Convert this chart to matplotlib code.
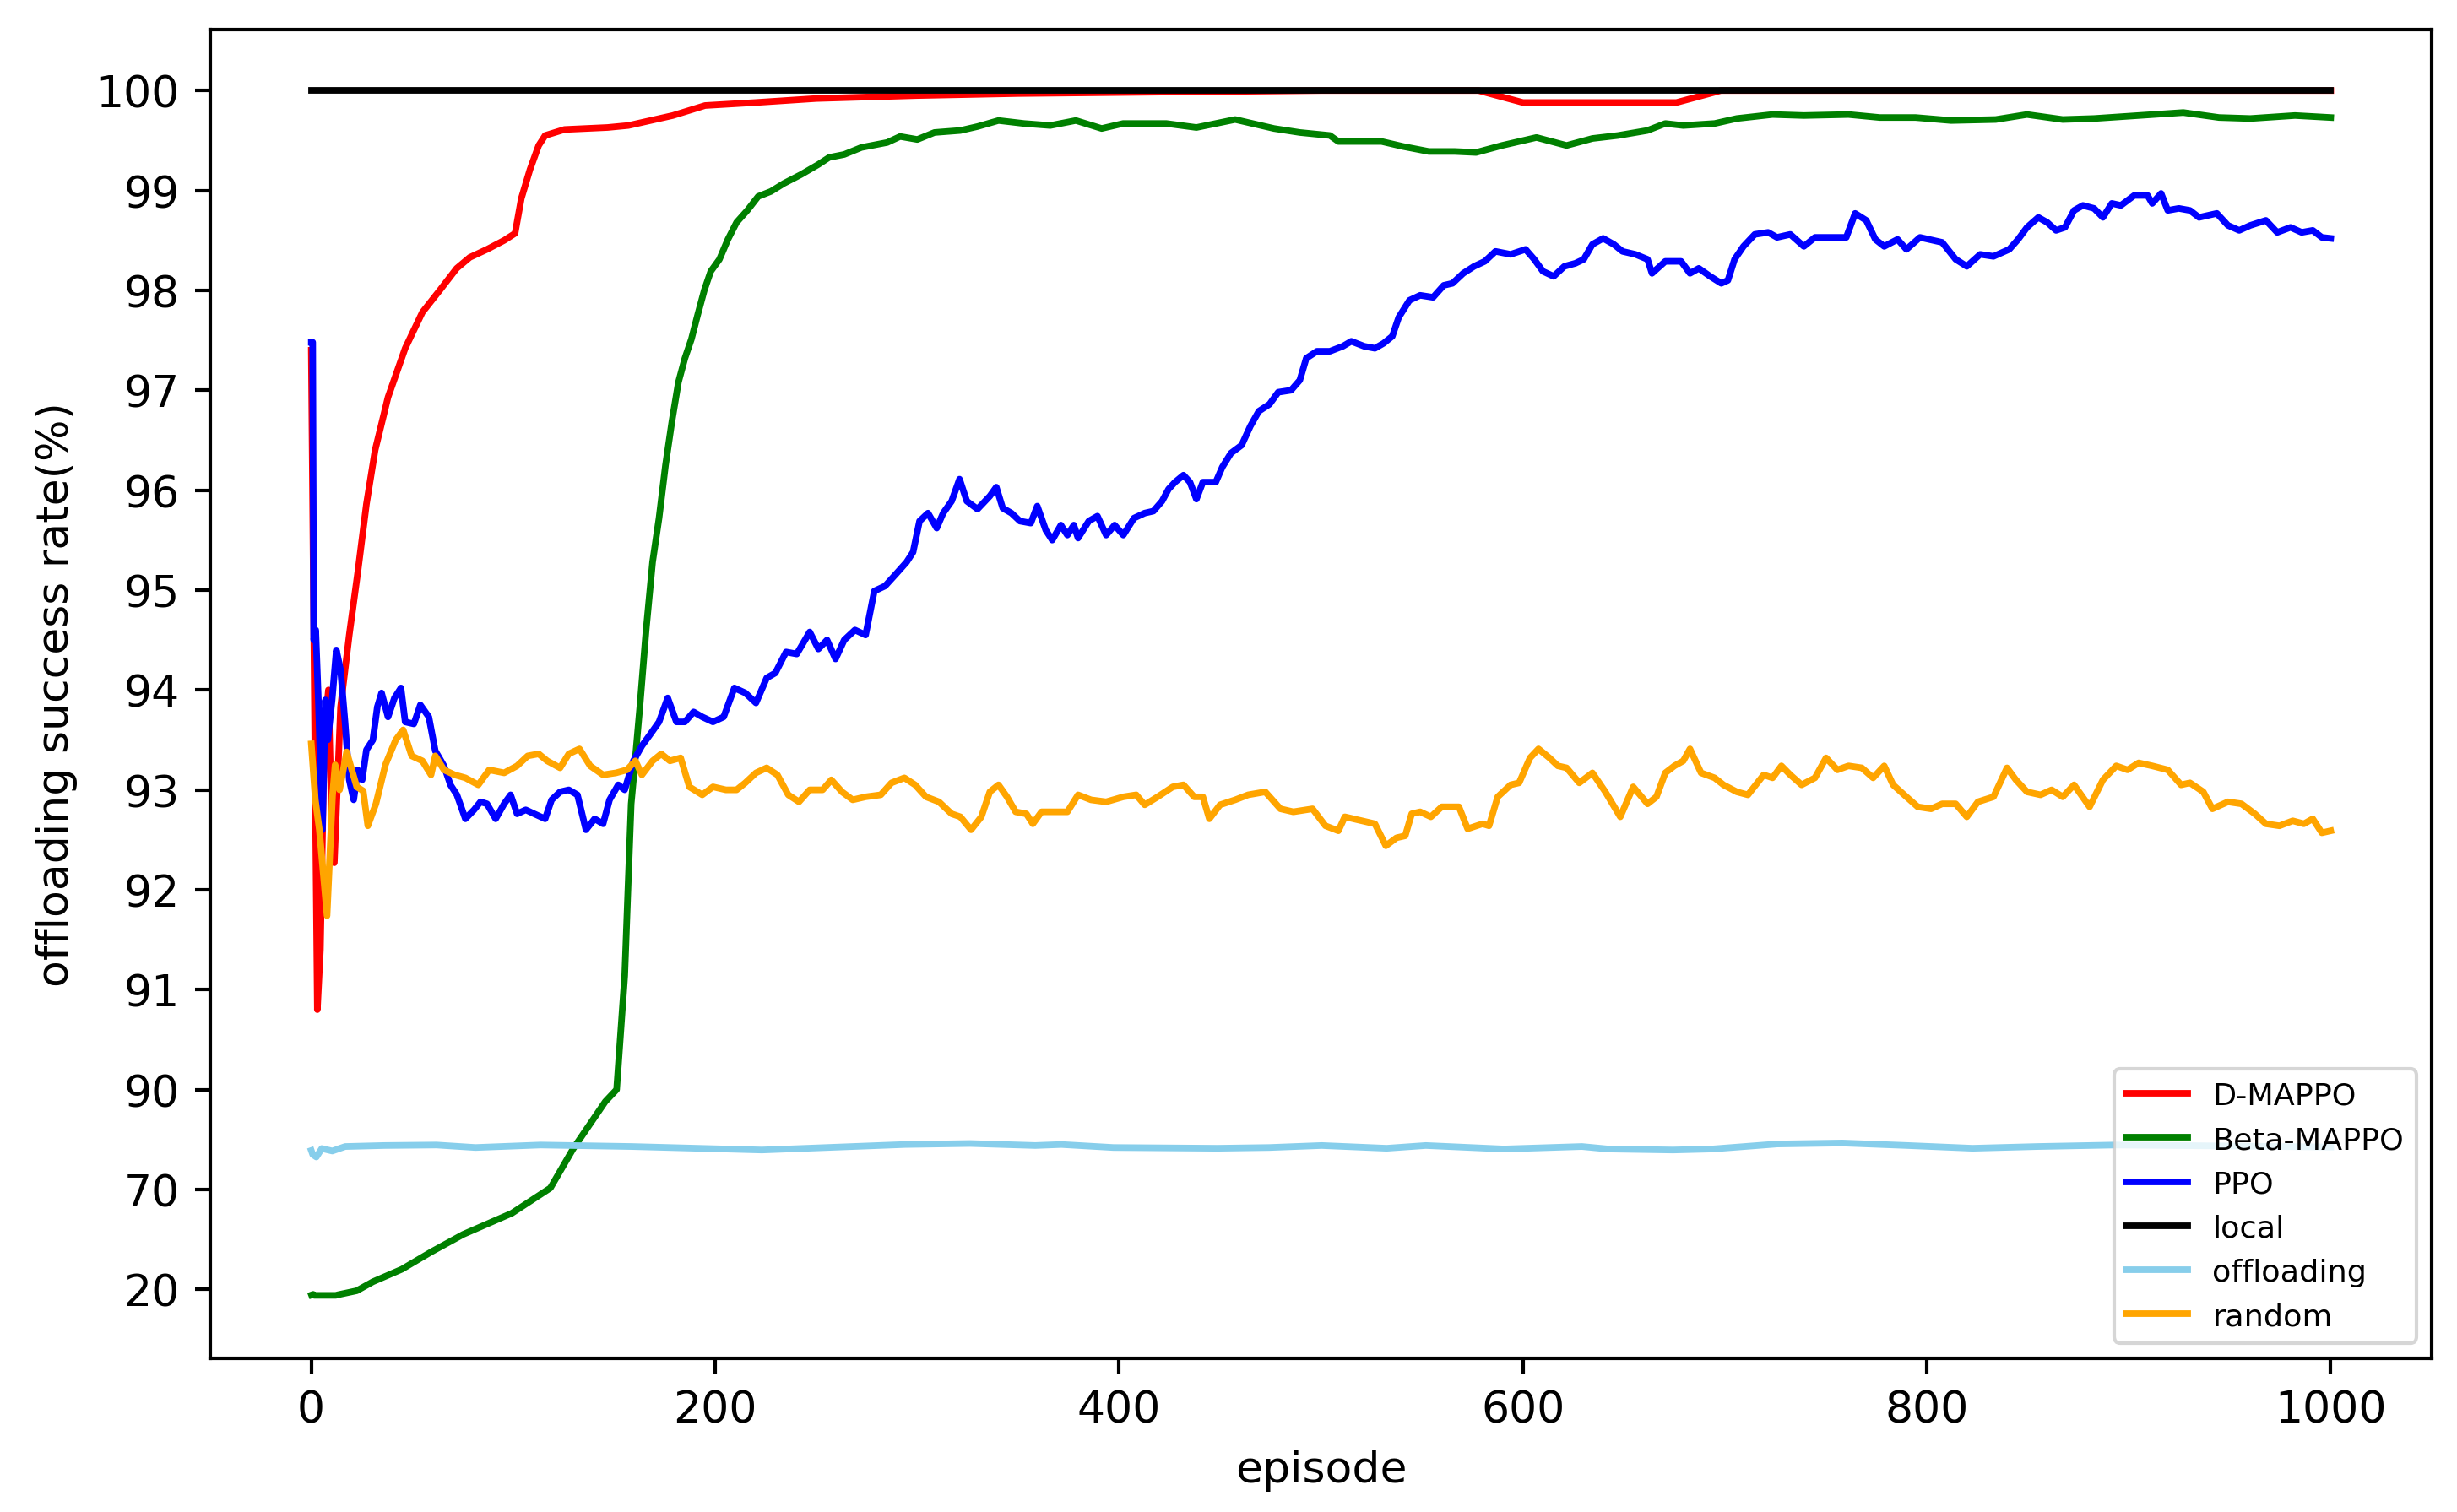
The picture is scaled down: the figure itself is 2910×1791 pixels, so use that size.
import numpy as np
import matplotlib
matplotlib.use("Agg")
import matplotlib.pyplot as plt

# ---------------- data ----------------
dmappo_ep = [0, 1.5, 3, 4.5, 6.5, 8.5, 10.5, 11.4, 14.5, 18.8, 23.1, 27.3, 31.6, 38, 46.5, 55,
             63.6, 72, 78.5, 87, 95.5, 100.9, 104, 108.3, 112.6, 115.8, 125.4, 146.7, 157,
             179, 195, 220, 250, 300, 350, 400, 450, 500, 578, 600, 676, 698, 750, 1000]
dmappo_val = [97.4, 94.0, 90.8, 91.4, 93.6, 94.0, 92.3, 92.27, 93.83, 94.55, 95.19, 95.86, 96.4,
              96.93, 97.42, 97.78, 98.0, 98.22, 98.33, 98.41, 98.5, 98.57, 98.92, 99.21, 99.45,
              99.55, 99.61, 99.63, 99.65, 99.75, 99.85, 99.88, 99.92, 99.95, 99.97, 99.98, 99.99,
              100.0, 100.0, 99.88, 99.88, 100.0, 100.0, 100.0]

beta_ep = [0.1, 0.9, 1.5, 12.1, 13.2, 22.5, 30.5, 44.9, 59.3, 75.2, 99.3, 118.4, 129.6, 145.6,
           151.2, 155.2, 158.4, 159.5, 162.7, 165.8, 169, 172.2, 175.4, 178.6, 181.8, 185, 188.2,
           191.4, 194.6, 197.8, 202.1, 206.3, 210.6, 215.9, 221.3, 227.6, 234, 242.6, 251.1,
           256.4, 263.9, 272.4, 285.2, 291.6, 300.1, 308.6, 321.4, 330, 340.3, 353, 365.9,
           378.6, 391.4, 402, 423.4, 438.3, 457.5, 476.7, 489.5, 504.4, 508.6, 530, 540.6,
           553.4, 566.2, 576.8, 589.6, 606.7, 621.6, 634.4, 647.1, 661.6, 670.5, 679.4, 694.9,
           705.9, 723.6, 739.1, 761.2, 776.7, 794.4, 812, 834.1, 849.6, 867.3, 882.8, 904.9,
           927, 944.7, 960.2, 982.3, 1000]
beta_val = [17.2, 17.5, 17.0, 17.0, 17.3, 19.3, 23.8, 30.1, 38.7, 47.5, 58.1, 70.3, 78.1, 87.6,
            90.0, 91.14, 92.86, 93.1, 93.83, 94.6, 95.28, 95.72, 96.25, 96.69, 97.08, 97.32,
            97.51, 97.76, 98.0, 98.19, 98.31, 98.51, 98.68, 98.8, 98.94, 98.99, 99.07, 99.16,
            99.26, 99.33, 99.36, 99.43, 99.48, 99.54, 99.51, 99.58, 99.6, 99.64, 99.7, 99.67,
            99.65, 99.7, 99.62, 99.67, 99.67, 99.63, 99.71, 99.62, 99.58, 99.55, 99.49, 99.49,
            99.44, 99.39, 99.39, 99.38, 99.45, 99.53, 99.45, 99.52, 99.55, 99.6, 99.67, 99.65,
            99.67, 99.72, 99.76, 99.75, 99.76, 99.73, 99.73, 99.7, 99.71, 99.76, 99.71, 99.72,
            99.75, 99.78, 99.73, 99.72, 99.75, 99.73]

ppo_ep = [0, 0.7, 1.2, 2.2, 3.5, 5.5, 7, 8.2, 10.3, 12.4, 14.5, 16.7, 18.8, 21, 23, 25.2, 27.3,
          30.5, 32.7, 34.8, 38, 41.2, 44.4, 46.5, 50.8, 54, 58.2, 61.4, 65.7, 68.9, 72.1, 76.3,
          80.6, 83.8, 87, 91.3, 95.5, 98.7, 101.9, 106.2, 110.4, 115.8, 119, 123.2, 127.5,
          131.8, 136, 140.3, 144.5, 147.7, 152, 155.2, 159.5, 163.7, 168, 172.2, 176.5, 180.8,
          185, 189.3, 193.6, 198.9, 204.2, 209.5, 214.9, 220.2, 225.5, 229.8, 235.1, 240.4,
          246.8, 251.1, 255.4, 259.6, 263.9, 269.2, 274.5, 278.8, 284.1, 289.5, 294.8, 298,
          301.2, 305.4, 309.7, 312.9, 317.1, 321, 324.6, 329.9, 336, 339.2, 342.4, 346.7,
          350.9, 356.3, 359.5, 363.7, 366.9, 371.2, 374.4, 377.6, 379.7, 385, 389.3, 393.6,
          397.8, 402.1, 407.4, 412.7, 417, 421.3, 424.5, 427.7, 431.9, 435.1, 438.3, 441.5,
          447.9, 451.1, 455.4, 460.7, 465, 469.2, 474.5, 478.8, 485.2, 489.5, 492.7, 498,
          504.4, 510.8, 515, 521.4, 526.7, 531, 535.3, 538.5, 543.8, 549.1, 555.5, 560.8,
          565.1, 570.4, 575.8, 581.1, 586.4, 593.9, 601.3, 605.6, 609.9, 615.2, 620.5, 625.9,
          630.1, 634.4, 639.7, 645, 649.3, 655.7, 661.7, 663.9, 670.5, 678.3, 682.7, 687.1,
          692.7, 698.2, 701.5, 704.8, 709.2, 714.8, 721.4, 725.8, 732.4, 739.1, 744.6, 750.1,
          756.8, 760.1, 764.5, 770, 774.5, 778.9, 785.5, 789.9, 796.6, 807.6, 814.3, 819.8,
          826.4, 833, 840.8, 845.2, 849.6, 855.2, 859.6, 864, 868.4, 872.9, 877.3, 882.8,
          887.2, 891.6, 896.1, 902.7, 909.3, 911.6, 916, 919.3, 924.8, 930.3, 934.8, 943.6,
          949.1, 954.7, 960.2, 967.9, 973.5, 980.1, 985.6, 991.1, 995.6, 1000]
ppo_val = [97.48, 97.48, 94.5, 94.6, 93.9, 92.6, 93.9, 93.5, 93.9, 94.4, 94.2, 93.68, 93.1, 92.9,
           93.2, 93.1, 93.4, 93.5, 93.83, 93.97, 93.73, 93.92, 94.02, 93.68, 93.66, 93.85,
           93.73, 93.39, 93.24, 93.05, 92.95, 92.71, 92.8, 92.88, 92.86, 92.71, 92.86, 92.95,
           92.76, 92.8, 92.76, 92.71, 92.9, 92.98, 93.0, 92.95, 92.6, 92.71, 92.66, 92.9, 93.05,
           93.0, 93.29, 93.44, 93.56, 93.68, 93.92, 93.68, 93.68, 93.78, 93.73, 93.68, 93.73,
           94.02, 93.97, 93.87, 94.12, 94.17, 94.38, 94.36, 94.58, 94.41, 94.5, 94.31, 94.5,
           94.6, 94.55, 94.99, 95.04, 95.16, 95.28, 95.38, 95.69, 95.77, 95.62, 95.77, 95.89,
           96.11, 95.89, 95.81, 95.94, 96.03, 95.82, 95.77, 95.69, 95.67, 95.84, 95.6, 95.5,
           95.65, 95.55, 95.65, 95.52, 95.69, 95.74, 95.55, 95.65, 95.55, 95.72, 95.77, 95.79,
           95.89, 96.01, 96.08, 96.15, 96.08, 95.91, 96.08, 96.08, 96.23, 96.37, 96.45, 96.64,
           96.79, 96.86, 96.98, 97.0, 97.1, 97.32, 97.39, 97.39, 97.44, 97.49, 97.44, 97.42,
           97.47, 97.54, 97.73, 97.9, 97.95, 97.93, 98.05, 98.07, 98.17, 98.24, 98.29, 98.39,
           98.36, 98.41, 98.31, 98.19, 98.14, 98.24, 98.27, 98.31, 98.46, 98.52, 98.46, 98.39,
           98.36, 98.31, 98.17, 98.29, 98.29, 98.17, 98.22, 98.14, 98.07, 98.1, 98.31, 98.44,
           98.56, 98.58, 98.53, 98.56, 98.44, 98.53, 98.53, 98.53, 98.53, 98.77, 98.7, 98.51,
           98.44, 98.51, 98.41, 98.53, 98.48, 98.31, 98.24, 98.36, 98.34, 98.41, 98.51, 98.63,
           98.73, 98.68, 98.6, 98.63, 98.8, 98.85, 98.82, 98.73, 98.87, 98.85, 98.95, 98.95,
           98.87, 98.97, 98.8, 98.82, 98.8, 98.73, 98.77, 98.65, 98.6, 98.65, 98.7, 98.58,
           98.63, 98.58, 98.6, 98.53, 98.52]

local_ep = [0, 1000]
local_val = [100.0, 100.0]

offload_ep = [0, 0.7, 2.5, 5.2, 10.4, 16.8, 36.2, 62, 81.3, 113.5, 158.6, 190.9, 223.1, 255.3,
              294, 326.2, 358.5, 371.4, 397.2, 448.7, 474.5, 500.3, 532.5, 551.9, 590.5, 629.2,
              642.1, 674.3, 693.7, 725.9, 758.1, 790.4, 822.6, 854.9, 893.5, 950, 1000]
offload_val = [77.8, 77.0, 76.5, 78.2, 77.7, 78.6, 78.8, 78.9, 78.4, 78.9, 78.6, 78.25, 77.9,
               78.4, 79.0, 79.2, 78.8, 79.0, 78.4, 78.25, 78.4, 78.8, 78.25, 78.8, 78.1, 78.6,
               78.1, 77.9, 78.1, 79.1, 79.3, 78.8, 78.25, 78.6, 78.9, 78.7, 78.5]

random_ep = [0, 2, 4, 7.8, 10.5, 11.8, 14, 17.5, 22.5, 25.7, 28, 32, 36.7, 41.8, 45.5, 49.7, 55,
             59.3, 61.4, 65.7, 71, 76.3, 82.7, 88.1, 95.5, 101.9, 107.2, 112.6, 116.8, 123.2,
             127.5, 132.8, 138.1, 144.5, 150.9, 156.3, 160.5, 163.7, 169, 173.3, 177.6, 182.9,
             187.2, 193.6, 198.9, 205.3, 210.6, 214.9, 220.2, 225.5, 230.8, 236.2, 241.5, 246.8,
             253.2, 257.5, 262.8, 268.1, 274.5, 282, 287.3, 293.7, 299, 304.4, 310.8, 317.1,
             321.4, 326.7, 331.8, 336, 340.3, 344.5, 348.8, 354.1, 357.3, 361.6, 368, 374.4,
             379.7, 386.1, 393.6, 402.1, 408.5, 412.7, 419.1, 426.6, 431.9, 437.2, 441.5, 444.7,
             450, 457.5, 463.9, 472.4, 479.9, 486.3, 495.8, 502.2, 508.6, 511.8, 520.4, 526.7,
             532.1, 537.4, 541.7, 544.9, 549.1, 554.4, 559.8, 568.3, 572.6, 580, 583.2, 587.5,
             593.9, 598.1, 603.5, 607.7, 613.1, 617.3, 621.6, 627.9, 634.4, 640.8, 648.2, 654.6,
             661.7, 666.1, 670.5, 675, 679.4, 682.7, 688.2, 694.9, 699.3, 705.9, 711.4, 719.2,
             723.6, 728, 732.4, 738, 744.6, 750.1, 755.7, 761.2, 767.8, 773.4, 778.9, 783.3,
             789.9, 795.5, 802.1, 807.6, 814.3, 819.8, 825.3, 833, 839.7, 844.1, 849.6, 856.3,
             861.8, 867.3, 872.9, 880.6, 887.2, 893.8, 899.4, 904.9, 911.6, 919.3, 925.9, 930.3,
             936.9, 941.4, 949.1, 955.8, 962.4, 967.9, 974.6, 981.2, 986.7, 991.1, 995.6, 1000]
random_val = [93.46, 92.9, 92.6, 91.74, 92.94, 93.25, 93.0, 93.38, 93.03, 92.99, 92.64, 92.86,
              93.25, 93.5, 93.6, 93.34, 93.29, 93.15, 93.34, 93.2, 93.15, 93.12, 93.05, 93.2,
              93.17, 93.24, 93.34, 93.36, 93.29, 93.22, 93.36, 93.41, 93.24, 93.15, 93.17, 93.2,
              93.29, 93.15, 93.29, 93.36, 93.29, 93.32, 93.03, 92.95, 93.03, 93.0, 93.0, 93.07,
              93.17, 93.22, 93.15, 92.95, 92.88, 93.0, 93.0, 93.1, 92.98, 92.9, 92.93, 92.95,
              93.07, 93.12, 93.05, 92.93, 92.88, 92.76, 92.73, 92.6, 92.73, 92.98, 93.05, 92.93,
              92.78, 92.76, 92.66, 92.78, 92.78, 92.78, 92.95, 92.9, 92.88, 92.93, 92.95, 92.85,
              92.93, 93.03, 93.05, 92.93, 92.93, 92.71, 92.85, 92.9, 92.95, 92.98, 92.81, 92.78,
              92.81, 92.64, 92.59, 92.73, 92.69, 92.66, 92.44, 92.52, 92.54, 92.76, 92.78, 92.73,
              92.83, 92.83, 92.61, 92.66, 92.64, 92.93, 93.05, 93.07, 93.32, 93.41, 93.32, 93.24,
              93.22, 93.07, 93.17, 92.98, 92.73, 93.03, 92.86, 92.93, 93.17, 93.24, 93.29, 93.41,
              93.17, 93.12, 93.05, 92.98, 92.95, 93.15, 93.12, 93.24, 93.15, 93.05, 93.12, 93.32,
              93.2, 93.24, 93.22, 93.12, 93.24, 93.05, 92.93, 92.83, 92.81, 92.86, 92.86, 92.73,
              92.88, 92.93, 93.22, 93.1, 92.98, 92.95, 93.0, 92.93, 93.05, 92.83, 93.1, 93.24,
              93.2, 93.27, 93.24, 93.2, 93.05, 93.07, 92.98, 92.81, 92.88, 92.86, 92.76, 92.66,
              92.64, 92.69, 92.66, 92.71, 92.57, 92.59]

series_labels = ["D-MAPPO", "Beta-MAPPO", "PPO", "local", "offloading", "random"]
y_ticks = [20, 70, 90, 91, 92, 93, 94, 95, 96, 97, 98, 99, 100]
x_ticks = [0, 200, 400, 600, 800, 1000]


# ---------------- piecewise y scale ----------------
def fwd(v):
    v = np.asarray(v, dtype=float)
    return np.where(v < 70, (v - 20) / 50.0,
                    np.where(v < 90, 1 + (v - 70) / 20.0, v - 88.0))


def inv(u):
    u = np.asarray(u, dtype=float)
    return np.where(u < 1, 20 + 50 * u,
                    np.where(u < 2, 70 + 20 * (u - 1), u + 88.0))


S = 1.25
plt.rcParams.update({
    "font.size": 10 * S,
    "lines.linewidth": 1.5 * S,
    "axes.linewidth": 0.8 * S,
    "xtick.major.size": 3.5 * S,
    "ytick.major.size": 3.5 * S,
    "xtick.major.width": 0.8 * S,
    "ytick.major.width": 0.8 * S,
    "xtick.major.pad": 3.5 * S,
    "ytick.major.pad": 3.5 * S,
    "axes.labelpad": 4.0 * S,
    "legend.fontsize": 7 * S,
})

fig = plt.figure(figsize=(9.7, 5.9733), dpi=300)
ax = fig.add_axes([0.0856, 0.1016, 0.9897 - 0.0856, 0.9799 - 0.1016])
ax.set_yscale('function', functions=(fwd, inv))

colors = ["red", "green", "blue", "black", "skyblue", "orange"]
data = [(dmappo_ep, dmappo_val), (beta_ep, beta_val), (ppo_ep, ppo_val),
        (local_ep, local_val), (offload_ep, offload_val), (random_ep, random_val)]
for (ep, val), lab, c in zip(data, series_labels, colors):
    ax.plot(ep, val, color=c, label=lab)

ax.set_xlim(-50, 1050)
ax.set_ylim(float(inv(-0.69)), float(inv(12.61)))
ax.set_xticks(x_ticks)
ax.set_yticks(y_ticks)
ax.set_yticklabels([str(t) for t in y_ticks])
ax.yaxis.set_minor_locator(matplotlib.ticker.NullLocator())
ax.set_xlabel("episode")
ax.set_ylabel("offloading success rate(%)")
ax.legend(loc="lower right")

fig.savefig("out.png", dpi=300)
